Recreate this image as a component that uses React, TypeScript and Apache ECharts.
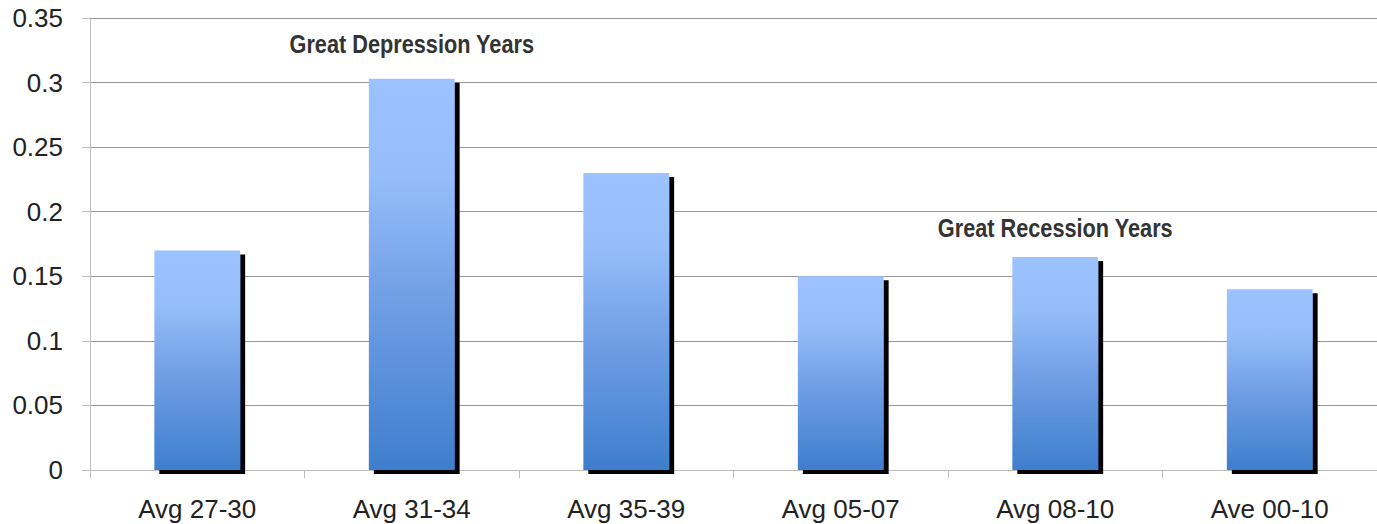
import React, { useEffect, useRef } from "react";
import * as echarts from "echarts";

const categories = ["Avg 27-30", "Avg 31-34", "Avg 35-39", "Avg 05-07", "Avg 08-10", "Ave 00-10"];
const values = [0.17, 0.303, 0.23, 0.15, 0.165, 0.14];
const annotationTexts = ["Great Depression Years", "Great Recession Years"];
const annotationCategories = ["Avg 31-34", "Avg 08-10"];
const annotationValues = [0.33, 0.1875];

const FONT = "'Liberation Sans', Arial, sans-serif";

export default function App() {
  const ref = useRef<HTMLDivElement>(null);
  useEffect(() => {
    document.body.style.margin = "0";
    const chart = echarts.init(ref.current!, null, { renderer: "svg" });
    chart.setOption({
      animation: false,
      backgroundColor: "#ffffff",
      grid: { left: 90, right: 0, top: 18, bottom: 54 },
      xAxis: {
        type: "category",
        data: categories,
        axisLine: { show: true, lineStyle: { color: "#bdbdbd", width: 1 } },
        axisTick: { show: true, length: 8, alignWithLabel: false, lineStyle: { color: "#bdbdbd" } },
        axisLabel: { fontSize: 26, color: "#222", fontFamily: FONT, margin: 26 },
      },
      yAxis: {
        type: "value",
        min: 0,
        max: 0.35,
        interval: 0.05,
        axisLine: { show: true, lineStyle: { color: "#bdbdbd", width: 1 } },
        axisTick: { show: true, length: 8, lineStyle: { color: "#bdbdbd" } },
        axisLabel: { fontSize: 26, color: "#222", fontFamily: FONT, margin: 27 },
        splitLine: { show: true, lineStyle: { color: "#999999", width: 1 } },
      },
      series: [
        {
          type: "bar",
          data: values,
          barWidth: "40%",
          itemStyle: {
            color: new echarts.graphic.LinearGradient(0, 0, 0, 1, [
              { offset: 0, color: "#9cc3ff" },
              { offset: 0.25, color: "#95bdfa" },
              { offset: 0.55, color: "#72a0e6" },
              { offset: 1, color: "#3e7ecd" },
            ]),
            shadowColor: "#000000",
            shadowBlur: 0,
            shadowOffsetX: 5,
            shadowOffsetY: 4,
          },
        },
      ],
    });
    const graphics = annotationTexts.map((t, i) => {
      const p = chart.convertToPixel({ gridIndex: 0 }, [annotationCategories[i], annotationValues[i]]) as number[];
      return {
        type: "text",
        x: p[0],
        y: p[1],
        scaleX: 0.835,
        style: {
          text: t,
          fontSize: 26,
          fontWeight: "bold",
          fontFamily: FONT,
          fill: "#333",
          textAlign: "center",
          textVerticalAlign: "middle",
        },
      };
    });
    chart.setOption({ graphic: graphics });
    return () => chart.dispose();
  }, []);
  return <div ref={ref} style={{ width: 1377, height: 524 }} />;
}
